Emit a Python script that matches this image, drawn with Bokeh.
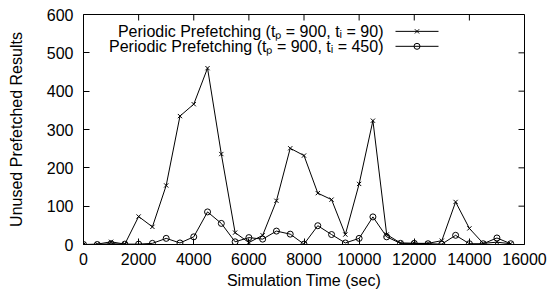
from bokeh.plotting import figure
from bokeh.models import Range1d, FixedTicker, Label
from bokeh.embed import file_html
from bokeh.resources import INLINE

# ---- data ----
time_sec = [0, 500, 1000, 1500, 2000, 2500, 3000, 3500, 4000, 4500, 5000, 5500,
            6000, 6500, 7000, 7500, 8000, 8500, 9000, 9500, 10000, 10500, 11000,
            11500, 12000, 12500, 13000, 13500, 14000, 14500, 15000, 15500]
unused_ti90 = [0, 1, 7, 1, 73, 46, 154, 335, 366, 460, 236, 31, 5, 24, 114, 251,
               232, 134, 117, 26, 158, 323, 26, 4, 3, 3, 10, 111, 42, 3, 6, 2]
unused_ti450 = [0, 0, 2, 1, 1, 3, 16, 4, 20, 85, 55, 7, 18, 14, 35, 27, 1, 49, 26,
                4, 16, 72, 20, 3, 3, 2, 1, 24, 2, 2, 17, 2]
x_ticks = [0, 2000, 4000, 6000, 8000, 10000, 12000, 14000, 16000]
y_ticks = [0, 100, 200, 300, 400, 500, 600]
label_ti90 = "Periodic Prefetching (t\u209a = 900, t\u1d62 = 90)"
label_ti450 = "Periodic Prefetching (t\u209a = 900, t\u1d62 = 450)"

FONT = "Liberation Sans"
FS = "16px"
X_MAX, Y_MAX = 16000, 600

p = figure(width=547, height=293, output_backend="svg", toolbar_location=None,
           x_range=Range1d(0, X_MAX), y_range=Range1d(0, Y_MAX),
           min_border_left=83, min_border_right=23, min_border_top=14,
           min_border_bottom=49)
p.grid.visible = False
p.outline_line_color = "black"
p.outline_line_width = 1
p.background_fill_color = "white"
p.border_fill_color = "white"

for ax in (p.xaxis[0], p.yaxis[0]):
    ax.major_label_text_font = FONT
    ax.major_label_text_font_size = FS
    ax.major_label_text_color = "black"
    ax.axis_label_text_font = FONT
    ax.axis_label_text_font_size = FS
    ax.axis_label_text_font_style = "normal"
    ax.axis_label_text_color = "black"
    ax.major_tick_in = 6
    ax.major_tick_out = 0
    ax.minor_tick_line_color = None
    ax.axis_line_color = None
    ax.major_tick_line_color = "black"

p.xaxis[0].ticker = FixedTicker(ticks=x_ticks)
p.yaxis[0].ticker = FixedTicker(ticks=y_ticks)
p.xaxis[0].axis_label = "Simulation Time (sec)"
p.yaxis[0].axis_label = "Unused Prefetched Results"
p.xaxis[0].major_label_standoff = 8
p.xaxis[0].axis_label_standoff = 4
p.yaxis[0].major_label_standoff = 10
p.yaxis[0].axis_label_standoff = 19

# mirrored ticks on top and right (6 px long, inward)
tick_dy = 6 * Y_MAX / 230.0
tick_dx = 6 * X_MAX / 441.0
p.segment(x0=x_ticks, y0=[Y_MAX] * len(x_ticks), x1=x_ticks,
          y1=[Y_MAX - tick_dy] * len(x_ticks), line_color="black", line_width=1)
p.segment(x0=[X_MAX] * len(y_ticks), y0=y_ticks, x1=[X_MAX - tick_dx] * len(y_ticks),
          y1=y_ticks, line_color="black", line_width=1)

# series
p.line(time_sec, unused_ti90, line_color="black", line_width=1)
p.scatter(time_sec, unused_ti90, marker="x", size=6, line_color="black", line_width=1)
p.line(time_sec, unused_ti450, line_color="black", line_width=1)
p.scatter(time_sec, unused_ti450, marker="circle", size=6, line_color="black",
          fill_color=None, line_width=1)

# legend (text left of sample, as in the original)
leg_x_text = 10884
leg_x0, leg_x1, leg_xm = 11320, 12880, 12100
rows = [(556, label_ti90, "x"), (517, label_ti450, "circle")]
for yy, txt, mk in rows:
    p.add_layout(Label(x=leg_x_text, y=yy, text=txt, text_align="right",
                       text_baseline="middle", text_font=FONT, text_font_size=FS,
                       text_color="black"))
    p.line([leg_x0, leg_x1], [yy, yy], line_color="black", line_width=1)
    p.scatter([leg_xm], [yy], marker=mk, size=6, line_color="black",
              fill_color=None, line_width=1)

open("out.html", "w").write(file_html(p, INLINE))
